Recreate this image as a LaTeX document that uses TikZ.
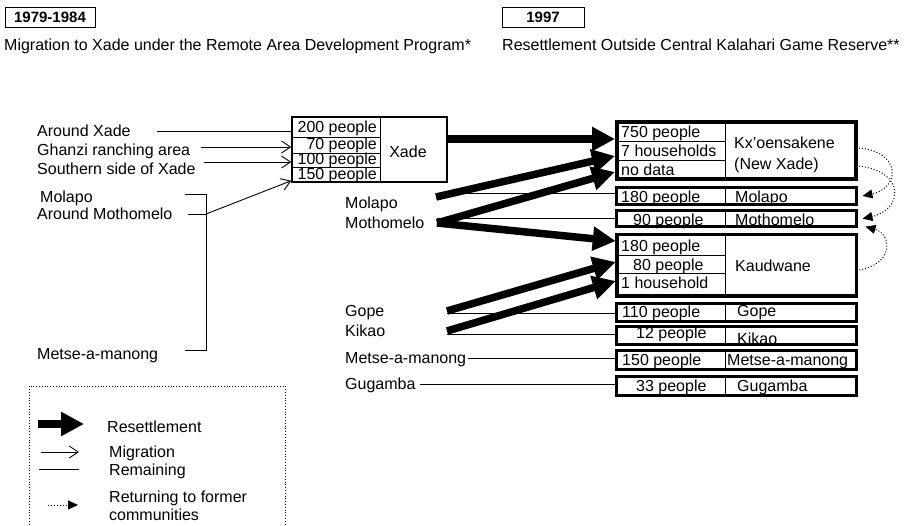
\documentclass[tikz,border=0pt]{standalone}
\usepackage{fontspec}
\setmainfont{Liberation Sans}
\usetikzlibrary{arrows.meta, positioning}

\tikzset{
  lbl/.style={font=\fontsize{16}{18}\selectfont, inner sep=0pt, text height=11.5pt, text depth=0pt, anchor=west},
  yearbox/.style={draw, line width=1pt, font=\fontsize{15}{18}\selectfont\bfseries, text height=10.8pt, text depth=0pt, minimum height=20pt, inner sep=0pt},
  village/.style={draw, line width=3pt, inner sep=0pt, outer sep=0pt},
  resettle/.style={-{Triangle[length=23pt,width=23pt]}, line width=7.5pt},
  migrate/.style={-{Straight Barb[length=9pt,width=12pt]}, line width=0.9pt},
  remain/.style={line width=0.9pt},
  returning/.style={-{Triangle[length=10pt,width=9pt]}, dotted, line width=1pt},
}

\begin{document}
\begin{tikzpicture}[x=1pt, y=-1pt]
    \useasboundingbox (0,0) rectangle (912,526);

    % Periods
    \node[yearbox, minimum width=90pt] (yrA) at (50,17.5) {1979-1984};
    \node[lbl] (capA) at (4,45) {Migration to Xade under the Remote Area Development Program*};
    \node[yearbox, minimum width=82pt] (yrB) at (543,17.5) {1997};
    \node[lbl] (capB) at (502,45) {Resettlement Outside Central Kalahari Game Reserve**};

    % Former places
    \node[lbl] (oAround) at (37,131) {Around Xade};
    \node[lbl] (oGhanzi) at (37,150) {Ghanzi ranching area};
    \node[lbl] (oSouth) at (37,169) {Southern side of Xade};
    \node[lbl] (oMolapo) at (40,197) {Molapo};
    \node[lbl] (oMoth) at (37,214) {Around Mothomelo};
    \node[lbl] (oMetse) at (37,354) {Metse-a-manong};

    % Xade
    \node[draw, line width=1.5pt, minimum width=155pt, minimum height=65pt, inner sep=0pt] (xade) at (369.5,149.5) {};
    \draw[remain] (380,0 |- xade.north) -- (380,0 |- xade.south);
    \draw[remain] (xade.west |- 0,137) -- (380,137);
    \draw[remain] (xade.west |- 0,153) -- (380,153);
    \draw[remain] (xade.west |- 0,167) -- (380,167);
    \node[lbl, anchor=east] (xr1) at (377,127) {200 people};
    \node[lbl, anchor=east] (xr2) at (377,144) {70 people};
    \node[lbl, anchor=east] (xr3) at (377,159) {100 people};
    \node[lbl, anchor=east] (xr4) at (377,174) {150 people};
    \node[lbl, anchor=center] (xname) at (408,152) {Xade};

    % Migration to Xade
    \coordinate (bTop) at (206,194);
    \coordinate (bMid) at (206,214);
    \coordinate (bBot) at (206,350);
    \coordinate (bTopL) at (185,194);
    \coordinate (bBotL) at (185,350);
    \draw[remain] ([xshift=26pt]oAround.east) -- (xade.west |- oAround);
    \draw[migrate] ([xshift=11pt,yshift=3pt]oGhanzi.east) -- (xade.west |- 0,147);
    \draw[migrate] ([xshift=8pt,yshift=7pt]oSouth.east) -- (xade.west |- 0,162);
    \draw[remain] (bTopL) -- (bTop) -- (bBot) -- (bBotL);
    \draw[remain] ([xshift=15pt]oMoth.east) -- (bMid);
    \draw[migrate] (bMid) -- ([yshift=2pt]xade.south west);

    % Places in 1997
    \node[lbl] (mMolapo) at (345,203) {Molapo};
    \node[lbl] (mMoth) at (345,223) {Mothomelo};
    \node[lbl] (mGope) at (345,311) {Gope};
    \node[lbl] (mKikao) at (345,331) {Kikao};
    \node[lbl] (mMetse) at (345,358) {Metse-a-manong};
    \node[lbl] (mGug) at (345,384) {Gugamba};

    % Settlements
    \node[village, line width=4pt, minimum width=239pt, minimum height=57.5pt] (kx) at (736.5,150.75) {};
    \node[village, minimum width=240pt, minimum height=17pt] (mol) at (736.5,196) {};
    \node[village, minimum width=240pt, minimum height=16.3pt] (moth) at (736.5,218.65) {};
    \node[village, line width=3.5pt, minimum width=239.5pt, minimum height=61.5pt] (kau) at (736.5,265.5) {};
    \node[village, minimum width=240pt, minimum height=18pt] (gope) at (736.5,312.5) {};
    \node[village, minimum width=240pt, minimum height=18pt] (kik) at (736.5,335.5) {};
    \node[village, minimum width=240pt, minimum height=19pt] (metse) at (736.5,360) {};
    \node[village, minimum width=240pt, minimum height=19pt] (gug) at (736.5,386) {};

    \draw[remain] (725,0 |- kx.north) -- (725,0 |- kx.south);
    \draw[remain] (725,0 |- mol.north) -- (725,0 |- mol.south);
    \draw[remain] (725,0 |- moth.north) -- (725,0 |- moth.south);
    \draw[remain] (725,0 |- kau.north) -- (725,0 |- kau.south);
    \draw[remain] (725,0 |- gope.north) -- (725,0 |- gope.south);
    \draw[remain] (725,0 |- kik.north) -- (725,0 |- kik.south);
    \draw[remain] (725,0 |- metse.north) -- (725,0 |- metse.south);
    \draw[remain] (725,0 |- gug.north) -- (725,0 |- gug.south);
    \draw[remain] (kx.west |- 0,141) -- (725,141);
    \draw[remain] (kx.west |- 0,160) -- (725,160);
    \draw[remain] (kau.west |- 0,255.5) -- (725,255.5);
    \draw[remain] (kau.west |- 0,273) -- (725,273);

    \node[lbl] (kx1) at (621,132) {750 people};
    \node[lbl] (kx2) at (621,151) {7 households};
    \node[lbl] (kx3) at (621,170) {no data};
    \node[lbl] (kxName) at (734,143) {Kx'oensakene};
    \node[lbl] (kxNew) at (734,164) {(New Xade)};
    \node[lbl] (mol1) at (621,197) {180 people};
    \node[lbl] (molName) at (735,197) {Molapo};
    \node[lbl] (moth1) at (633,220) {90 people};
    \node[lbl] (mothName) at (735,220) {Mothomelo};
    \node[lbl] (kau1) at (621,246) {180 people};
    \node[lbl] (kau2) at (633,265) {80 people};
    \node[lbl] (kau3) at (621,283) {1 household};
    \node[lbl] (kauName) at (735,266) {Kaudwane};
    \node[lbl] (gope1) at (622,312) {110 people};
    \node[lbl] (gopeName) at (737,311) {Gope};
    \node[lbl] (kik1) at (636,333) {12 people};
    \node[lbl] (kikName) at (737,339) {Kikao};
    \node[lbl] (metse1) at (622,360) {150 people};
    \node[lbl] (metseName) at (727,360) {Metse-a-manong};
    \node[lbl] (gug1) at (636,386) {33 people};
    \node[lbl] (gugName) at (737,386) {Gugamba};

    % Resettlement
    \coordinate (tMol) at (436,197);
    \coordinate (tMoth) at (437,223);
    \coordinate (tGope) at (447,311);
    \coordinate (tKik) at (447,331);
    \draw[resettle] (xade.east |- 0,139) -- ([xshift=-2pt]kx.west |- 0,139);
    \draw[resettle] (tMol) -- ([xshift=-2pt]kx.west |- 0,156);
    \draw[resettle] (tMoth) -- ([xshift=-2pt]kx.west |- 0,172);
    \draw[resettle] (tMoth) -- ([xshift=-1pt]kau.west |- 0,241);
    \draw[resettle] (tGope) -- ([xshift=-1pt]kau.west |- 0,262);
    \draw[resettle] (tKik) -- ([xshift=-1pt]kau.west |- 0,281);

    % Remaining
    \coordinate (rMol) at (437,193);
    \coordinate (rMoth) at (437,218);
    \coordinate (rGope) at (447,313);
    \coordinate (rKik) at (447,334);
    \draw[remain] (rMol) -- (mol.west |- rMol);
    \draw[remain] (rMoth) -- (moth.west |- rMoth);
    \draw[remain] (rGope) -- (gope.west |- rGope);
    \draw[remain] (rKik) -- (kik.west |- rKik);
    \draw[remain] ([xshift=2pt]mMetse.east) -- (metse.west |- mMetse);
    \draw[remain] ([xshift=4pt]mGug.east) -- (gug.west |- mGug);

    % Returning
    \draw[returning] ([xshift=3pt]kx.east |- 0,148) .. controls (902,152) and (900,188) .. ([xshift=6pt]mol.east);
    \draw[returning] ([xshift=3pt]kx.east |- 0,166) .. controls (907,172) and (902,210) .. ([xshift=6pt]moth.east);
    \draw[returning] ([xshift=3pt]kau.east |- 0,270) .. controls (894,264) and (892,234) .. ([xshift=9pt,yshift=-8pt]moth.east);

    % Legend
    \draw[dotted, line width=0.8pt] (29,530) -- (29,386) -- (285,386) -- (285,530);
    \node[lbl] (kRes) at (107,427) {Resettlement};
    \draw[resettle] ([xshift=-69pt,yshift=3pt]kRes.west) -- ([xshift=-23pt,yshift=3pt]kRes.west);
    \node[lbl] (kMig) at (109,452) {Migration};
    \draw[migrate] ([xshift=-68pt]kMig.west) -- ([xshift=-30pt]kMig.west);
    \node[lbl] (kRem) at (109,470) {Remaining};
    \draw[remain] ([xshift=-70pt,yshift=1pt]kRem.west) -- ([xshift=-30pt,yshift=1pt]kRem.west);
    \node[lbl] (kRet) at (109,497) {Returning to former};
    \node[lbl] (kRetB) at (109,515) {communities};
    \draw[returning] ([xshift=-61pt,yshift=-8pt]kRet.west) -- ([xshift=-31pt,yshift=-8pt]kRet.west);
\end{tikzpicture}
\end{document}
